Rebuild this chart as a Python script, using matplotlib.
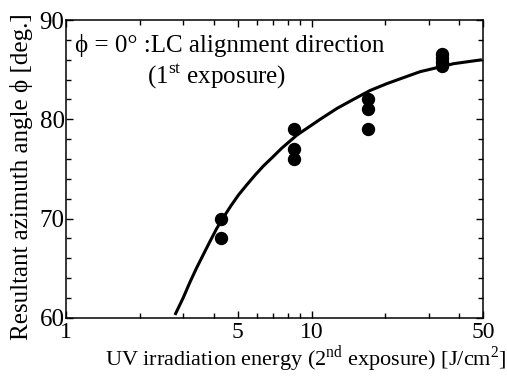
import matplotlib
matplotlib.use("Agg")
import matplotlib.pyplot as plt
from matplotlib.ticker import FixedLocator, NullFormatter

plt.rcParams['font.family'] = ['Liberation Serif', 'DejaVu Serif']
plt.rcParams['mathtext.fontset'] = 'custom'
plt.rcParams['mathtext.rm'] = 'Liberation Serif'

# measured points
energia = [4.3, 4.3, 8.5, 8.5, 8.5, 17, 17, 17, 34, 34, 34, 34]
angulo = [70, 68, 79, 77, 76, 82, 81, 79, 86.6, 86.2, 85.8, 85.4]

# fitted curve
curva_x = [2.78, 3.00, 3.20, 3.40, 3.63, 3.86, 4.11, 4.40, 4.70, 5.05, 5.45,
           5.90, 6.37, 6.95, 7.57, 8.71, 10.84, 12.7, 14.8, 17.3, 20.3,
           23.7, 27.7, 32.4, 37.8, 43.2, 49.4]
curva_y = [60.3, 62.0, 63.6, 65.0, 66.4, 67.7, 69.0, 70.2, 71.3, 72.4, 73.4,
           74.4, 75.3, 76.2, 77.1, 78.4, 80.0, 81.1, 82.0, 82.9, 83.6,
           84.2, 84.8, 85.2, 85.6, 85.8, 86.0]

x_mayores = [1, 5, 10, 50]
x_menores = [2, 3, 4, 6, 7, 8, 9, 20, 30, 40]

fig = plt.figure(figsize=(5.07, 3.78), dpi=100)
ax = fig.add_axes([0.130, 0.159, 0.823, 0.788])

ax.plot(curva_x, curva_y, color='black', lw=2.2, solid_capstyle='butt')
ax.plot(energia, angulo, 'o', color='black', ms=8.6)

ax.set_xscale('log')
ax.set_xlim(1, 50)
ax.set_ylim(60, 90)
ax.xaxis.set_major_locator(FixedLocator(x_mayores))
ax.xaxis.set_minor_locator(FixedLocator(x_menores))
ax.xaxis.set_minor_formatter(NullFormatter())
ax.set_xticklabels([str(v) for v in x_mayores])
ax.set_yticks([60, 70, 80, 90])
ax.set_yticks(range(60, 91, 2), minor=True)

ax.tick_params(which='both', direction='in', top=True, right=True,
               labelsize=18, width=1.0)
ax.tick_params(which='major', length=5)
ax.tick_params(which='minor', length=3.5)
ax.tick_params(axis='y', pad=1)
ax.tick_params(axis='x', pad=3, labelsize=17)
for s in ax.spines.values():
    s.set_linewidth(1.1)

fig.text(305.5 / 507, (378 - 366) / 378,
         r'UV irradiation energy (2$^{\rm nd}$ exposure) [J/cm$^{2}$]',
         fontsize=16, ha='center', va='baseline')
fig.text(0.043, 0.532, 'Resultant azimuth angle ϕ [deg.]', fontsize=18,
         rotation=90, ha='center', va='center')

ax.text(0.022, 0.915, 'ϕ = 0° :LC alignment direction', transform=ax.transAxes,
        fontsize=18, va='center', ha='left')
ax.text(0.195, 0.812, r'(1$^{\rm st}$ exposure)', transform=ax.transAxes,
        fontsize=18, va='center', ha='left')

fig.savefig('out.png', dpi=100)
